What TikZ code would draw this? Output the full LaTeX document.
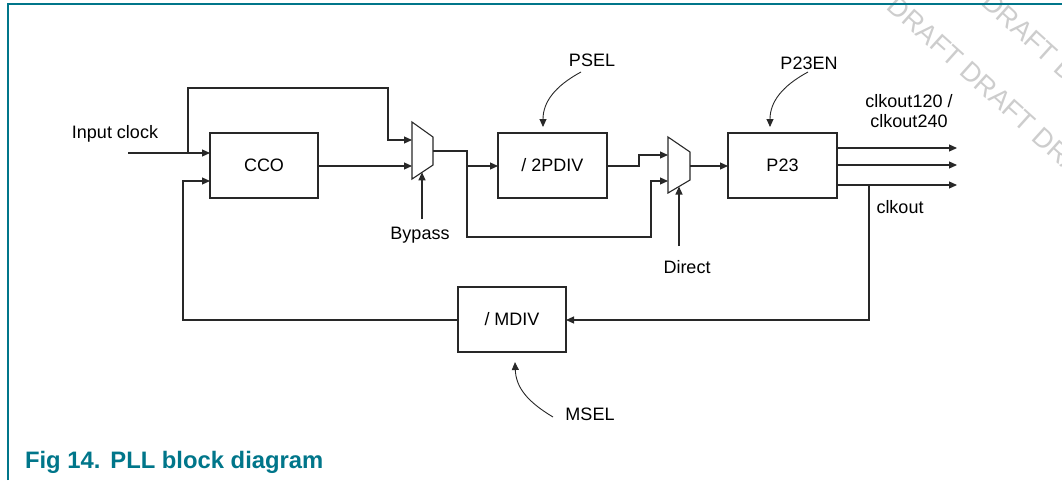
\documentclass[tikz,border=0pt]{standalone}
\usepackage{fontspec}
\setmainfont{Liberation Sans}
\usetikzlibrary{arrows.meta}
\definecolor{nxpteal}{RGB}{0,118,138}
\definecolor{wmgray}{RGB}{205,205,205}
\definecolor{linegray}{RGB}{40,40,40}
\begin{document}
\begin{tikzpicture}[x=1pt,y=-1pt,
  every node/.style={font=\fontsize{18}{20}\selectfont, inner sep=0pt, outer sep=0pt},
  blk/.style={draw=linegray, line width=1.1pt, minimum width=108pt, minimum height=65pt, inner sep=0pt, outer sep=0pt},
  wire/.style={draw=linegray, line width=1.1pt},
  arr/.style={wire, -{Triangle[length=8pt,width=7pt]}},
  muxshape/.style={draw=linegray, line width=1.1pt, line join=miter},
  wm/.style={font=\fontsize{27}{30}\selectfont, text=wmgray, rotate=-42}
]
\useasboundingbox (0,0) rectangle (1062,480);
\fill[white] (0,0) rectangle (1062,480);
% watermark
\begin{scope}
\clip (0,0) rectangle (1062,480);
\node[wm] (wm1) at (998,97) {DRAFT DRAFT DRAFT};
\node[wm] (wm2) at (1020,28) {DRAFT DRAFT DRAFT};
\end{scope}
% frame
\draw[nxpteal, line width=1.5pt] (8,480) -- (8,4) -- (1062,4);
% blocks
\node[blk] (cco) at (264,165.5) {CCO};
\node[blk, minimum width=109pt] (pdiv) at (552.5,165.5) {/ 2PDIV};
\node[blk, minimum width=109pt] (p23) at (782.5,165.5) {P23};
\node[blk] (mdiv) at (512,319.5) {/ MDIV};
% muxes
\draw[muxshape] (412,122) -- (433,137) -- (433,165) -- (412,179) -- cycle;
\draw[muxshape] (668,137) -- (690,152) -- (690,180) -- (668,193) -- cycle;
\coordinate (m1a) at (412,140);
\coordinate (m1b) at (412,166);
\coordinate (m1o) at (433,151);
\coordinate (m1s) at (422,172.3);
\coordinate (m2a) at (668,155);
\coordinate (m2b) at (668,181);
\coordinate (m2o) at (690,166);
\coordinate (m2s) at (679,186.5);
% labels
\node (inlbl) at (115,134) {Input clock};
\node (psel) at (592,60) {PSEL};
\node (p23en) at (809,63) {P23EN};
\node[align=center, font=\fontsize{18}{19.5}\selectfont] (clk12) at (909,111) {clkout120 /\\clkout240};
\node (clkout) at (900,207) {clkout};
\node (msel) at (590,414) {MSEL};
\node (bypass) at (420,235) {Bypass};
\node (direct) at (687,267) {Direct};
% control coordinates
\coordinate (inL) at (128,153);
\coordinate (j1) at (188,153);
\coordinate (bypS) at (422,219);
\coordinate (dirS) at (679,246);
% connectors
\draw[arr] (inL) -- (cco.west |- inL);
\draw[arr] (j1) -- (188,88) -- (388,88) -- (388,140) -- (m1a);
\draw[arr] (cco.east |- m1b) -- (m1b);
\draw[arr] (m1o) -- (467,151) -- (467,166) -- (pdiv.west |- 0,166);
\draw[arr] (467,166) -- (467,237) -- (651,237) -- (651,181) -- (m2b);
\draw[arr] (pdiv.east |- 0,166) -- (639,166) -- (639,155) -- (m2a);
\draw[arr] (m2o) -- (p23.west |- m2o);
\draw[arr] (bypS) -- (m1s);
\draw[arr] (dirS) -- (m2s);
\coordinate (o1) at (957,148);
\coordinate (o2) at (957,165);
\coordinate (o3) at (957,185);
\draw[arr] (p23.east |- o1) -- (o1);
\draw[arr] (p23.east |- o2) -- (o2);
\draw[arr] (p23.east |- o3) -- (o3);
\draw[arr] (869,185) -- (869,320) -- (mdiv.east |- 0,320);
\draw[arr] (mdiv.west |- 0,320) -- (183,320) -- (183,181) -- (cco.west |- 0,181);
% curved control arrows
\draw[arr, line width=0.9pt] (581,72) .. controls (555,86) and (543,102) .. (543,127);
\draw[arr, line width=0.9pt] (808,72) .. controls (782,86) and (770,102) .. (770,127);
\draw[arr, line width=0.9pt] (553,417) .. controls (528,402) and (516,388) .. (515,362);
% caption
\node[anchor=base west, text=nxpteal, font=\fontsize{23.8}{25}\selectfont\bfseries] (cap) at (25,468) {Fig 14.\hspace{10pt}PLL block diagram};
\end{tikzpicture}
\end{document}
